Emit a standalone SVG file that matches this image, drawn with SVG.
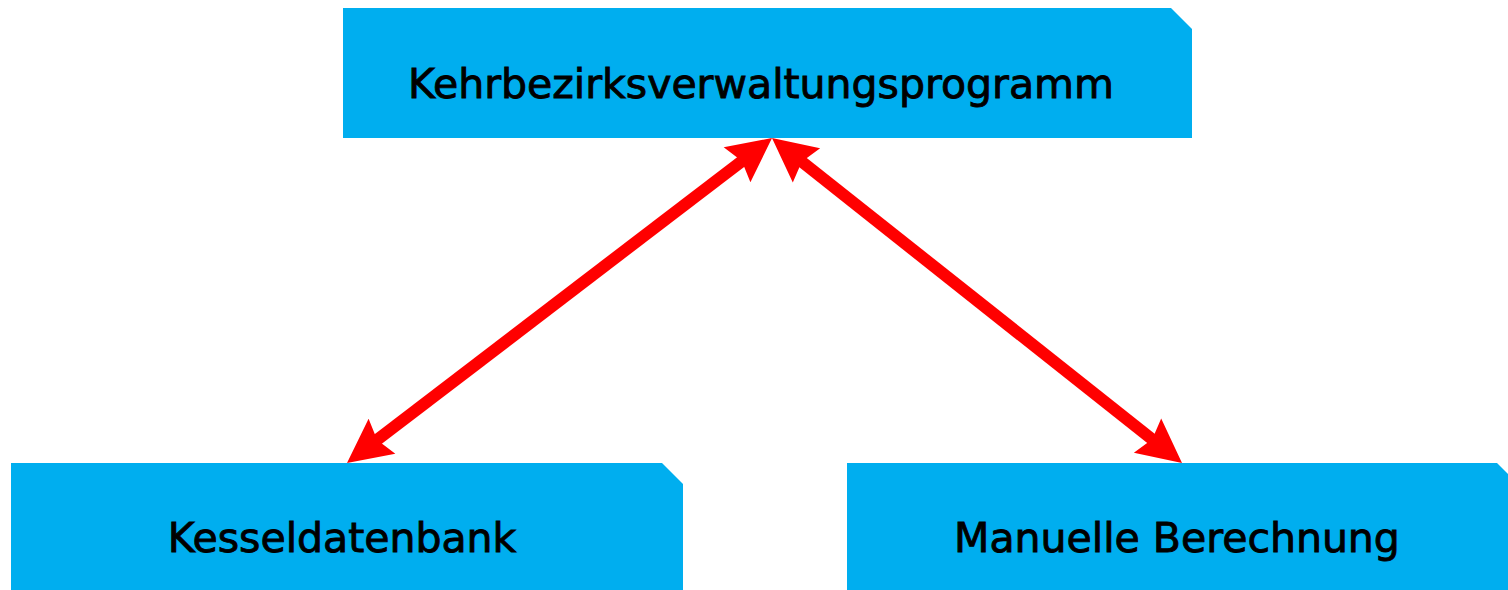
<svg xmlns="http://www.w3.org/2000/svg" width="1508" height="590" viewBox="0 0 1508 590">
<style>
.node{fill:#00AEEF;}
.label{font-family:"DejaVu Sans","Liberation Sans",sans-serif;font-size:41px;fill:#000;stroke:#000;stroke-width:0.9;text-anchor:middle;}
.conn{stroke:#FF0000;stroke-width:12;fill:none;}
</style>
<defs>
<marker id="ah" markerUnits="userSpaceOnUse" viewBox="-10 -24 48 48" markerWidth="48" markerHeight="48" refX="0" refY="0" orient="auto-start-reverse">
<path d="M36,0 L-8,-22 L-2,0 L-8,22 Z" fill="#FF0000"/>
</marker>
</defs>
<rect width="1508" height="590" fill="#fff"/>
<g id="node-top">
<path class="node" d="M343,8 L1171,8 L1192,29 L1192,138 L343,138 Z"/>
<text class="label" x="761" y="98">Kehrbezirksverwaltungsprogramm</text>
</g>
<g id="node-left">
<path class="node" d="M11,463 L662,463 L683,484 L683,590 L11,590 Z"/>
<text class="label" x="342" y="552">Kesseldatenbank</text>
</g>
<g id="node-right">
<path class="node" d="M847,463 L1497,463 L1518,484 L1518,590 L847,590 Z"/>
<text class="label" x="1177" y="552">Manuelle Berechnung</text>
</g>
<g id="connectors">
<line class="conn" x1="743.4" y1="159.9" x2="375.6" y2="441.1" marker-start="url(#ah)" marker-end="url(#ah)"/>
<line class="conn" x1="800.2" y1="160.4" x2="1153.8" y2="440.6" marker-start="url(#ah)" marker-end="url(#ah)"/>
</g>
</svg>
